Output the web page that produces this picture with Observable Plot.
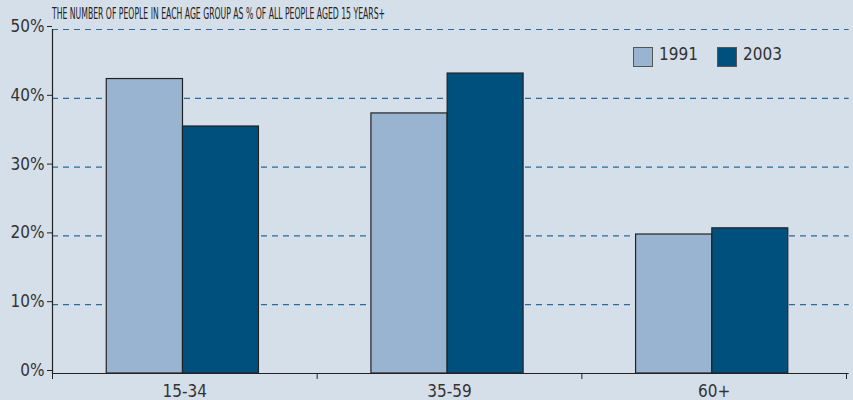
<!DOCTYPE html>
<html>
<head>
<meta charset="utf-8">
<script src="https://cdn.jsdelivr.net/npm/d3@7"></script>
<script src="https://cdn.jsdelivr.net/npm/@observablehq/plot@0.6"></script>
<style>
  html, body { margin: 0; padding: 0; background: #d5dfea; }
  #wrap { position: relative; width: 853px; height: 400px; overflow: hidden; font-family: "Liberation Sans Narrow", "DejaVu Sans Condensed", "Liberation Sans", sans-serif; color: #333; }
  #title { position: absolute; left: 52px; top: 5px; font-size: 15px; white-space: nowrap; transform-origin: 0 0; color: #222; }
  .leg { position: absolute; top: 47px; width: 18px; height: 18px; border: 1px solid #555; box-sizing: content-box; }
  .legt { position: absolute; top: 44px; font-size: 17px; color: #333; }
</style>
</head>
<body>
<div id="wrap">
  <div id="chart"></div>
  <div id="title"></div>
  <div id="legend"></div>
</div>
<script>
const titleText = "THE NUMBER OF PEOPLE IN EACH AGE GROUP AS % OF ALL PEOPLE AGED 15 YEARS+";
const categories = ["15-34", "35-59", "60+"];
const years = ["1991", "2003"];
const values1991 = [42.8, 37.8, 20.2];
const values2003 = [35.9, 43.6, 21.1];
const yTicks = [0, 10, 20, 30, 40, 50];
const colors = ["#98b4d0", "#00507d"];

const data = categories.flatMap((c, i) => [
  {cat: c, i, year: years[0], v: values1991[i]},
  {cat: c, i, year: years[1], v: values2003[i]}
]);
const start = {"1991": 0.205, "2003": 0.493};
const end = {"1991": 0.493, "2003": 0.78};

const plot = Plot.plot({
  width: 853,
  height: 400,
  marginLeft: 52,
  marginRight: 7,
  marginTop: 29,
  marginBottom: 27,
  style: {background: "transparent", fontSize: "17px", fontFamily: "'Liberation Sans Narrow', 'DejaVu Sans Condensed', 'Liberation Sans', sans-serif", color: "#333"},
  x: {type: "linear", domain: [0, categories.length], axis: null},
  y: {domain: [0, 50], axis: null, label: null},
  color: {domain: years, range: colors},
  marks: [
    Plot.ruleY(yTicks.filter(d => d > 0), {stroke: "#2a6b9c", strokeDasharray: "6,5", strokeWidth: 1.2, x1: 0, x2: categories.length + 0.01}),
    Plot.rectY(data, {
      x1: d => d.i + start[d.year],
      x2: d => d.i + end[d.year],
      y: "v",
      fill: "year",
      stroke: "#222",
      strokeWidth: 1.2
    }),
    Plot.ruleX([0], {y1: 0, y2: 50, stroke: "#222", strokeWidth: 1.2}),
    Plot.ruleY([0], {stroke: "#222", strokeWidth: 1.2, x1: 0, x2: categories.length + 0.01}),
    Plot.axisY({ticks: yTicks, tickFormat: d => d + "%", tickSize: 5, tickPadding: 3, dy: -3, stroke: "#222", fill: "#333", label: null}),
    Plot.axisX({ticks: d3.range(categories.length + 1), tickFormat: () => "", tickSize: 6, stroke: "#222", label: null}),
    Plot.axisX({ticks: categories.map((c, i) => i + 0.5), tickFormat: d => categories[Math.floor(d)], tickSize: 0, tickPadding: 11, fill: "#333", label: null})
  ]
});
document.getElementById("chart").appendChild(plot);

const t = document.getElementById("title");
t.textContent = titleText;
const targetW = 333;
const w = t.getBoundingClientRect().width;
t.style.transform = `scaleX(${targetW / w})`;

const leg = document.getElementById("legend");
const legX = [633, 717];
years.forEach((y, k) => {
  const s = document.createElement("div");
  s.className = "leg";
  s.style.left = legX[k] + "px";
  s.style.background = colors[k];
  leg.appendChild(s);
  const tx = document.createElement("div");
  tx.className = "legt";
  tx.style.left = (legX[k] + 26) + "px";
  tx.textContent = y;
  leg.appendChild(tx);
});
</script>
</body>
</html>
